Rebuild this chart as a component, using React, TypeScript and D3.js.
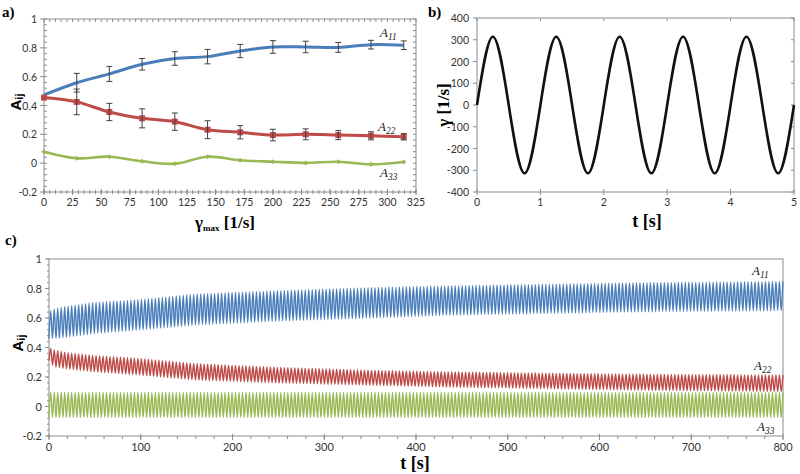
import React from 'react';
import * as d3 from 'd3';

// panel a) - steady values vs gamma max
const gammaMax = [0, 28.6, 57.1, 85.7, 114.3, 142.9, 171.4, 200, 228.6, 257.1, 285.7, 314.3];
const a11 = [0.473, 0.558, 0.619, 0.686, 0.726, 0.739, 0.778, 0.806, 0.806, 0.803, 0.822, 0.818];
const a11Err = [0, 0.065, 0.052, 0.04, 0.047, 0.05, 0.046, 0.044, 0.04, 0.034, 0.03, 0.03];
const a22 = [0.455, 0.425, 0.355, 0.311, 0.288, 0.232, 0.214, 0.195, 0.2, 0.195, 0.19, 0.183];
const a22Err = [0.008, 0.089, 0.06, 0.066, 0.06, 0.062, 0.046, 0.04, 0.038, 0.032, 0.028, 0.022];
const a33 = [0.08, 0.034, 0.045, 0.013, -0.004, 0.045, 0.02, 0.01, 0.002, 0.01, -0.008, 0.008];
const xTicksA = [0, 25, 50, 75, 100, 125, 150, 175, 200, 225, 250, 275, 300, 325];
const yTicksA = [-0.2, 0, 0.2, 0.4, 0.6, 0.8, 1];

// panel b) - shear rate signal, read at quarter periods
const shearT = [0, 0.25, 0.5, 0.75, 1, 1.25, 1.5, 1.75, 2, 2.25, 2.5, 2.75, 3, 3.25, 3.5, 3.75, 4, 4.25, 4.5, 4.75, 5];
const shearV = [0, 314, 0, -314, 0, 314, 0, -314, 0, 314, 0, -314, 0, 314, 0, -314, 0, 314, 0, -314, 0];
const xTicksB = [0, 1, 2, 3, 4, 5];
const yTicksB = [-400, -300, -200, -100, 0, 100, 200, 300, 400];

// panel c) - envelopes of the oscillating components
const envT = [0, 5, 20, 50, 100, 160, 250, 350, 430, 550, 650, 800];
const a11Hi = [0.64, 0.66, 0.68, 0.705, 0.725, 0.762, 0.785, 0.805, 0.818, 0.83, 0.84, 0.848];
const a11Lo = [0.46, 0.46, 0.47, 0.495, 0.52, 0.553, 0.58, 0.6, 0.618, 0.632, 0.642, 0.65];
const a22Hi = [0.4, 0.385, 0.365, 0.345, 0.325, 0.29, 0.265, 0.245, 0.235, 0.225, 0.218, 0.213];
const a22Lo = [0.31, 0.27, 0.255, 0.235, 0.213, 0.18, 0.16, 0.145, 0.133, 0.12, 0.11, 0.102];
const a33Hi = [0.095, 0.095, 0.095, 0.095, 0.095, 0.095, 0.095, 0.095, 0.095, 0.095, 0.095, 0.095];
const a33Lo = [-0.075, -0.075, -0.075, -0.075, -0.075, -0.075, -0.075, -0.075, -0.075, -0.075, -0.075, -0.075];
const toothPeriod = 3.8; // apparent period of the sampled oscillation [s]
const xTicksC = [0, 100, 200, 300, 400, 500, 600, 700, 800];
const yTicksC = [-0.2, 0, 0.2, 0.4, 0.6, 0.8, 1];

const BLUE = '#4a7ebb';
const RED = '#be4b48';
const GREEN = '#98b954';
const AXIS = '#8c8c8c';
const TICKFONT = 'Lato, "Open Sans", sans-serif';
const SERIF = '"Liberation Serif", "DejaVu Serif", serif';

const xA = d3.scaleLinear().domain([0, 325]).range([44, 416]);
const yA = d3.scaleLinear().domain([-0.2, 1]).range([192, 19]);
const xB = d3.scaleLinear().domain([0, 5]).range([477, 794]);
const yB = d3.scaleLinear().domain([-400, 400]).range([192, 18]);
const xC = d3.scaleLinear().domain([0, 800]).range([49, 783]);
const yC = d3.scaleLinear().domain([-0.2, 1]).range([436, 259]);

const Sub = ({ x, y, base, sub, size = 13, italic = true }: any) => (
  <text x={x} y={y} fontFamily={SERIF} fontStyle={italic ? 'italic' : 'normal'} fontSize={size} fill="#222">
    {base}
    <tspan dy={3} fontSize={size * 0.72}>{sub}</tspan>
  </text>
);

// tick marks along a line (len1 before, len2 after the axis line)
const Ticks = ({ vals, pos, at, vertical, len1, len2 }: any) => (
  <g stroke={AXIS} strokeWidth={1}>
    {vals.map((v: number, i: number) => {
      const p = pos(v);
      return vertical ? (
        <line key={i} x1={at - len1} x2={at + len2} y1={p} y2={p} />
      ) : (
        <line key={i} y1={at - len1} y2={at + len2} x1={p} x2={p} />
      );
    })}
  </g>
);

const PanelA = () => {
  const line = d3.line<number>().x((_, i) => xA(gammaMax[i])).y((d) => yA(d)).curve(d3.curveCatmullRom.alpha(0.5));
  const [x0, x1] = xA.range();
  const [y0, y1] = yA.range();
  const minorX = d3.range(0, 326, 5);
  const minorY = d3.range(-0.2, 1.001, 0.04);
  const errBars = (vals: number[], errs: number[]) =>
    vals.map((v, i) =>
      errs[i] > 0.009 ? (
        <g key={i} stroke="#404040" strokeWidth={1}>
          <line x1={xA(gammaMax[i])} x2={xA(gammaMax[i])} y1={yA(v - errs[i])} y2={yA(v + errs[i])} />
          <line x1={xA(gammaMax[i]) - 3} x2={xA(gammaMax[i]) + 3} y1={yA(v - errs[i])} y2={yA(v - errs[i])} />
          <line x1={xA(gammaMax[i]) - 3} x2={xA(gammaMax[i]) + 3} y1={yA(v + errs[i])} y2={yA(v + errs[i])} />
        </g>
      ) : null
    );
  return (
    <g>
      <text x={2} y={17} fontFamily={SERIF} fontWeight="bold" fontSize={15}>a)</text>
      <rect x={x0} y={y1} width={x1 - x0} height={y0 - y1} fill="none" stroke={AXIS} />
      <Ticks vals={minorX} pos={xA} at={y0} len1={2} len2={2} />
      <Ticks vals={xTicksA} pos={xA} at={y0} len1={3} len2={3} />
      <Ticks vals={minorX} pos={xA} at={y1} len1={0} len2={3} />
      <Ticks vals={minorY} pos={yA} at={x0} vertical len1={0} len2={3} />
      <Ticks vals={yTicksA} pos={yA} at={x0} vertical len1={4} len2={0} />
      <Ticks vals={minorY} pos={yA} at={x1} vertical len1={3} len2={0} />
      {xTicksA.map((t) => (
        <text key={t} x={xA(t)} y={206} textAnchor="middle" fontFamily={TICKFONT} fontSize={10.5} fill="#333">{t}</text>
      ))}
      {yTicksA.map((t) => (
        <text key={t} x={37} y={yA(t) + 4} textAnchor="end" fontFamily={TICKFONT} fontSize={10.5} fill="#333">{+t.toFixed(1)}</text>
      ))}
      <path d={line(a33) || ''} fill="none" stroke={GREEN} strokeWidth={2.6} />
      <path d={line(a22) || ''} fill="none" stroke={RED} strokeWidth={3} />
      <path d={line(a11) || ''} fill="none" stroke={BLUE} strokeWidth={3} />
      {a33.map((v, i) => (
        <path key={i} d={`M${xA(gammaMax[i])},${yA(v) - 2.5}l2.5,2.5l-2.5,2.5l-2.5,-2.5z`} fill={GREEN} />
      ))}
      {a22.map((v, i) => (
        <rect key={i} x={xA(gammaMax[i]) - 3} y={yA(v) - 3} width={6} height={6} fill={RED} />
      ))}
      {errBars(a22, a22Err)}
      {errBars(a11, a11Err)}
      <Sub x={380} y={37} base="A" sub="11" />
      <Sub x={378} y={131} base="A" sub="22" />
      <Sub x={380} y={177} base="A" sub="33" />
      <text transform="translate(21,102) rotate(-90)" textAnchor="middle" fontFamily='"Liberation Sans", Arial, sans-serif' fontWeight="bold" fontSize={15}>
        A<tspan fontSize={11} dy={2}>ij</tspan>
      </text>
      <text x={225} y={228} textAnchor="middle" fontFamily={SERIF} fontWeight="bold" fontSize={17}>
        γ<tspan fontSize={9} dy={3}>max</tspan><tspan dy={-3}> [1/s]</tspan>
      </text>
    </g>
  );
};

const PanelB = () => {
  const line = d3.line<number>().x((_, i) => xB(shearT[i])).y((d) => yB(d)).curve(d3.curveNatural);
  const [x0, x1] = xB.range();
  const [y0, y1] = yB.range();
  return (
    <g>
      <text x={428} y={17} fontFamily={SERIF} fontWeight="bold" fontSize={15}>b)</text>
      <rect x={x0} y={y1} width={x1 - x0} height={y0 - y1} fill="none" stroke={AXIS} />
      <Ticks vals={xTicksB} pos={xB} at={y0} len1={3} len2={3} />
      <Ticks vals={xTicksB} pos={xB} at={y1} len1={0} len2={3} />
      <Ticks vals={yTicksB} pos={yB} at={x0} vertical len1={4} len2={0} />
      <Ticks vals={yTicksB} pos={yB} at={x1} vertical len1={3} len2={0} />
      {xTicksB.map((t) => (
        <text key={t} x={xB(t)} y={206} textAnchor="middle" fontFamily={TICKFONT} fontSize={10.5} fill="#333">{t}</text>
      ))}
      {yTicksB.map((t) => (
        <text key={t} x={469} y={yB(t) + 4} textAnchor="end" fontFamily={TICKFONT} fontSize={10.5} fill="#333">{t}</text>
      ))}
      <path d={line(shearV) || ''} fill="none" stroke="#111" strokeWidth={2.6} />
      <text transform="translate(449,105) rotate(-90)" textAnchor="middle" fontFamily={SERIF} fontWeight="bold" fontSize={17}>γ [1/s]</text>
      <text x={647} y={227} textAnchor="middle" fontFamily={SERIF} fontWeight="bold" fontSize={18}>t [s]</text>
    </g>
  );
};

const PanelC = () => {
  const [x0, x1] = xC.range();
  const [y0, y1] = yC.range();
  const minorX = d3.range(0, 801, 20);
  const minorY = d3.range(-0.2, 1.001, 0.04);
  const half = d3.range(0, 800 / (toothPeriod / 2));
  const zigzag = (hi: number[], lo: number[]) => {
    const up = d3.scaleLinear().domain(envT).range(hi);
    const dn = d3.scaleLinear().domain(envT).range(lo);
    const pts: [number, number][] = half.map((k) => {
      const t = Math.min(800, (k * toothPeriod) / 2);
      return [xC(t), yC(k % 2 === 0 ? dn(t) : up(t))];
    });
    return d3.line().curve(d3.curveMonotoneX)(pts) || '';
  };
  return (
    <g>
      <text x={5} y={245} fontFamily={SERIF} fontWeight="bold" fontSize={15}>c)</text>
      <rect x={x0} y={y1} width={x1 - x0} height={y0 - y1} fill="none" stroke={AXIS} />
      <Ticks vals={minorX} pos={xC} at={y0} len1={0} len2={3} />
      <Ticks vals={xTicksC} pos={xC} at={y0} len1={2} len2={4} />
      <Ticks vals={minorY} pos={yC} at={x0} vertical len1={2} len2={0} />
      <Ticks vals={yTicksC} pos={yC} at={x0} vertical len1={4} len2={0} />
      {xTicksC.map((t) => (
        <text key={t} x={xC(t)} y={451} textAnchor="middle" fontFamily={TICKFONT} fontSize={11} fill="#333">{t}</text>
      ))}
      {yTicksC.map((t) => (
        <text key={t} x={42} y={yC(t) + 4} textAnchor="end" fontFamily={TICKFONT} fontSize={11} fill="#333">{+t.toFixed(1)}</text>
      ))}
      <path d={zigzag(a33Hi, a33Lo)} fill="none" stroke={GREEN} strokeWidth={1.4} />
      <path d={zigzag(a22Hi, a22Lo)} fill="none" stroke={RED} strokeWidth={1.4} />
      <path d={zigzag(a11Hi, a11Lo)} fill="none" stroke={BLUE} strokeWidth={1.4} />
      <Sub x={752} y={275} base="A" sub="11" />
      <Sub x={754} y={370} base="A" sub="22" />
      <Sub x={757} y={431} base="A" sub="33" />
      <text transform="translate(23,343) rotate(-90)" textAnchor="middle" fontFamily='"Liberation Sans", Arial, sans-serif' fontWeight="bold" fontSize={15}>
        A<tspan fontSize={11} dy={2}>ij</tspan>
      </text>
      <text x={415} y={469} textAnchor="middle" fontFamily={SERIF} fontWeight="bold" fontSize={18}>t [s]</text>
    </g>
  );
};

export default function App() {
  return (
    <svg width={800} height={474} style={{ position: 'absolute', left: 0, top: 0, background: '#fff' }}>
      <PanelA />
      <PanelB />
      <PanelC />
    </svg>
  );
}
